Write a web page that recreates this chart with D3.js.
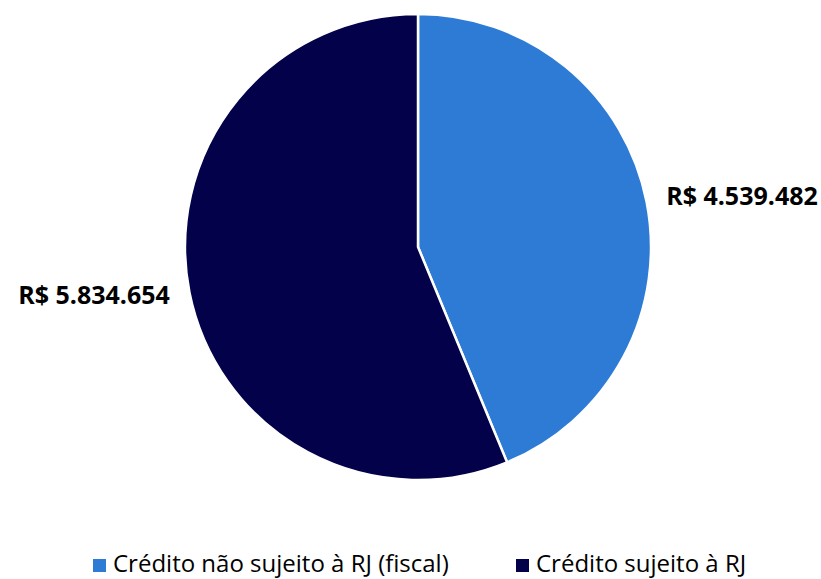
<!DOCTYPE html>
<html>
<head>
<meta charset="utf-8">
<script src="https://cdn.jsdelivr.net/npm/d3@7"></script>
<style>
  body { margin: 0; background: #fff; }
  text { font-family: "Open Sans", sans-serif; }
</style>
</head>
<body>
<div id="chart"></div>
<script>
// data
var categories = ["Crédito não sujeito à RJ (fiscal)", "Crédito sujeito à RJ"];
var values = [4539482, 5834654];
var labels = ["R$ 4.539.482", "R$ 5.834.654"];
var colors = ["#2E7BD6", "#03014A"];

var width = 821, height = 579;
var cx = 418, cy = 247, radius = 233;

var svg = d3.select("#chart")
  .append("svg")
    .attr("width", width)
    .attr("height", height);

var pie = d3.pie().sort(null).value(function(d) { return d; });
var arcs = pie(values);

var arc = d3.arc().innerRadius(0).outerRadius(radius);
var labelArc = d3.arc().innerRadius(radius + 20).outerRadius(radius + 20);

var g = svg.append("g")
  .attr("transform", "translate(" + cx + "," + cy + ")");

g.selectAll("path.slice")
  .data(arcs)
  .enter().append("path")
    .attr("class", "slice")
    .attr("d", arc)
    .style("fill", function(d, i) { return colors[i]; })
    .style("stroke", "#fff")
    .style("stroke-width", 2.5);

g.selectAll("text.lbl")
  .data(arcs)
  .enter().append("text")
    .attr("class", "lbl")
    .attr("transform", function(d) { return "translate(" + labelArc.centroid(d) + ")"; })
    .attr("text-anchor", function(d) {
      var mid = (d.startAngle + d.endAngle) / 2;
      return mid < Math.PI ? "start" : "end";
    })
    .attr("dy", "0.3em")
    .style("font-size", "25px")
    .style("font-weight", "bold")
    .style("fill", "#000")
    .text(function(d, i) { return labels[i]; });

// legend
var legendX = d3.scalePoint().domain(categories).range([93, 516]);

var leg = svg.selectAll("g.legend")
  .data(categories)
  .enter().append("g")
    .attr("class", "legend")
    .attr("transform", function(d) { return "translate(" + legendX(d) + ",564)"; });

leg.append("rect")
  .attr("x", 0)
  .attr("y", -5)
  .attr("width", 13)
  .attr("height", 13)
  .style("fill", function(d, i) { return colors[i]; });

leg.append("text")
  .attr("x", 20)
  .attr("dy", "0.35em")
  .style("font-size", "24px")
  .style("fill", "#000")
  .text(function(d) { return d; });
</script>
</body>
</html>
